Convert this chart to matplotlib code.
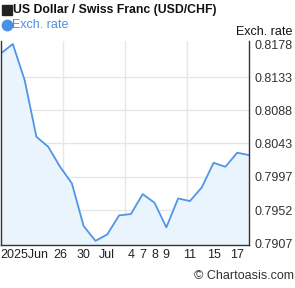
import matplotlib
matplotlib.use("Agg")
import matplotlib.pyplot as plt
from matplotlib.lines import Line2D

plt.rcParams['font.family'] = ['Liberation Sans', 'DejaVu Sans']

rates = [0.81653, 0.8178, 0.81290, 0.80517, 0.80381, 0.80109, 0.79883, 0.79301,
         0.79101, 0.79188, 0.79447, 0.79465, 0.79737, 0.79619, 0.79284, 0.79678,
         0.79642, 0.79828, 0.80163, 0.80109, 0.80300, 0.80268]
tick_idx = [2, 5, 7, 9, 11, 12, 13, 14, 16, 18, 20]
tick_labels = ["2025Jun", "26", "30", "Jul", "4", "7", "8", "9", "11", "15", "17"]
y_ticks = [0.7907, 0.7952, 0.7997, 0.8043, 0.8088, 0.8133, 0.8178]

W, H = 295, 288
fig = plt.figure(figsize=(W/100, H/100), dpi=100)
ax = fig.add_axes([1/W, 1-245/H, 248/W, 204/H])

x = list(range(len(rates)))
line_c = '#5195e6'
ax.fill_between(x, rates, 0.78, color='#eaf4fd', lw=0)
ax.plot(x, rates, color=line_c, lw=1.3)
ax.set_xlim(0, len(rates)-1)
ax.set_ylim(0.79044, 0.81821)

for f in [0.25, 0.5, 0.75]:
    ax.axvline((len(rates)-1)*f, color='#e6e6e6', lw=1, zorder=0)
for v in y_ticks[1:-1]:
    ax.axhline(v, color='#e6e6e6', lw=1, zorder=0)

ax.set_xticks(tick_idx)
ax.set_xticklabels(tick_labels, fontsize=9, color='#222222')
ax.set_yticks(y_ticks)
ax.set_yticklabels([f"{v:.4f}" for v in y_ticks], fontsize=9, color='#333333')
ax.yaxis.tick_right()
ax.tick_params(axis='both', length=0, pad=3)
ax.tick_params(axis='y', pad=4)
ax.spines['top'].set_visible(False)
for s in ['left', 'right', 'bottom']:
    ax.spines[s].set_color('#333333')
    ax.spines[s].set_linewidth(1)
ax.patch.set_alpha(0)

fig.add_artist(Line2D([6.5/W], [1-10/H], marker='s', markersize=7, color='#222222',
                      transform=fig.transFigure, linestyle='none'))
fig.text(13/W, 1-10/H, "US Dollar / Swiss Franc (USD/CHF)", fontsize=8.8,
         fontweight='bold', color='#111111', va='center', ha='left')
fig.add_artist(Line2D([6.5/W], [1-25/H], marker='o', markersize=7.5, color='#4a90e2',
                      transform=fig.transFigure, linestyle='none'))
fig.text(12/W, 1-25/H, "Exch. rate", fontsize=9, color='#4a90e2', va='center', ha='left')
fig.text(292/W, 1-32/H, "Exch. rate", fontsize=9, color='#111111', va='center', ha='right')
fig.text(294/W, 1-276/H, "© Chartoasis.com", fontsize=9, color='#333333', va='center', ha='right')

fig.savefig("out.png", dpi=100)
